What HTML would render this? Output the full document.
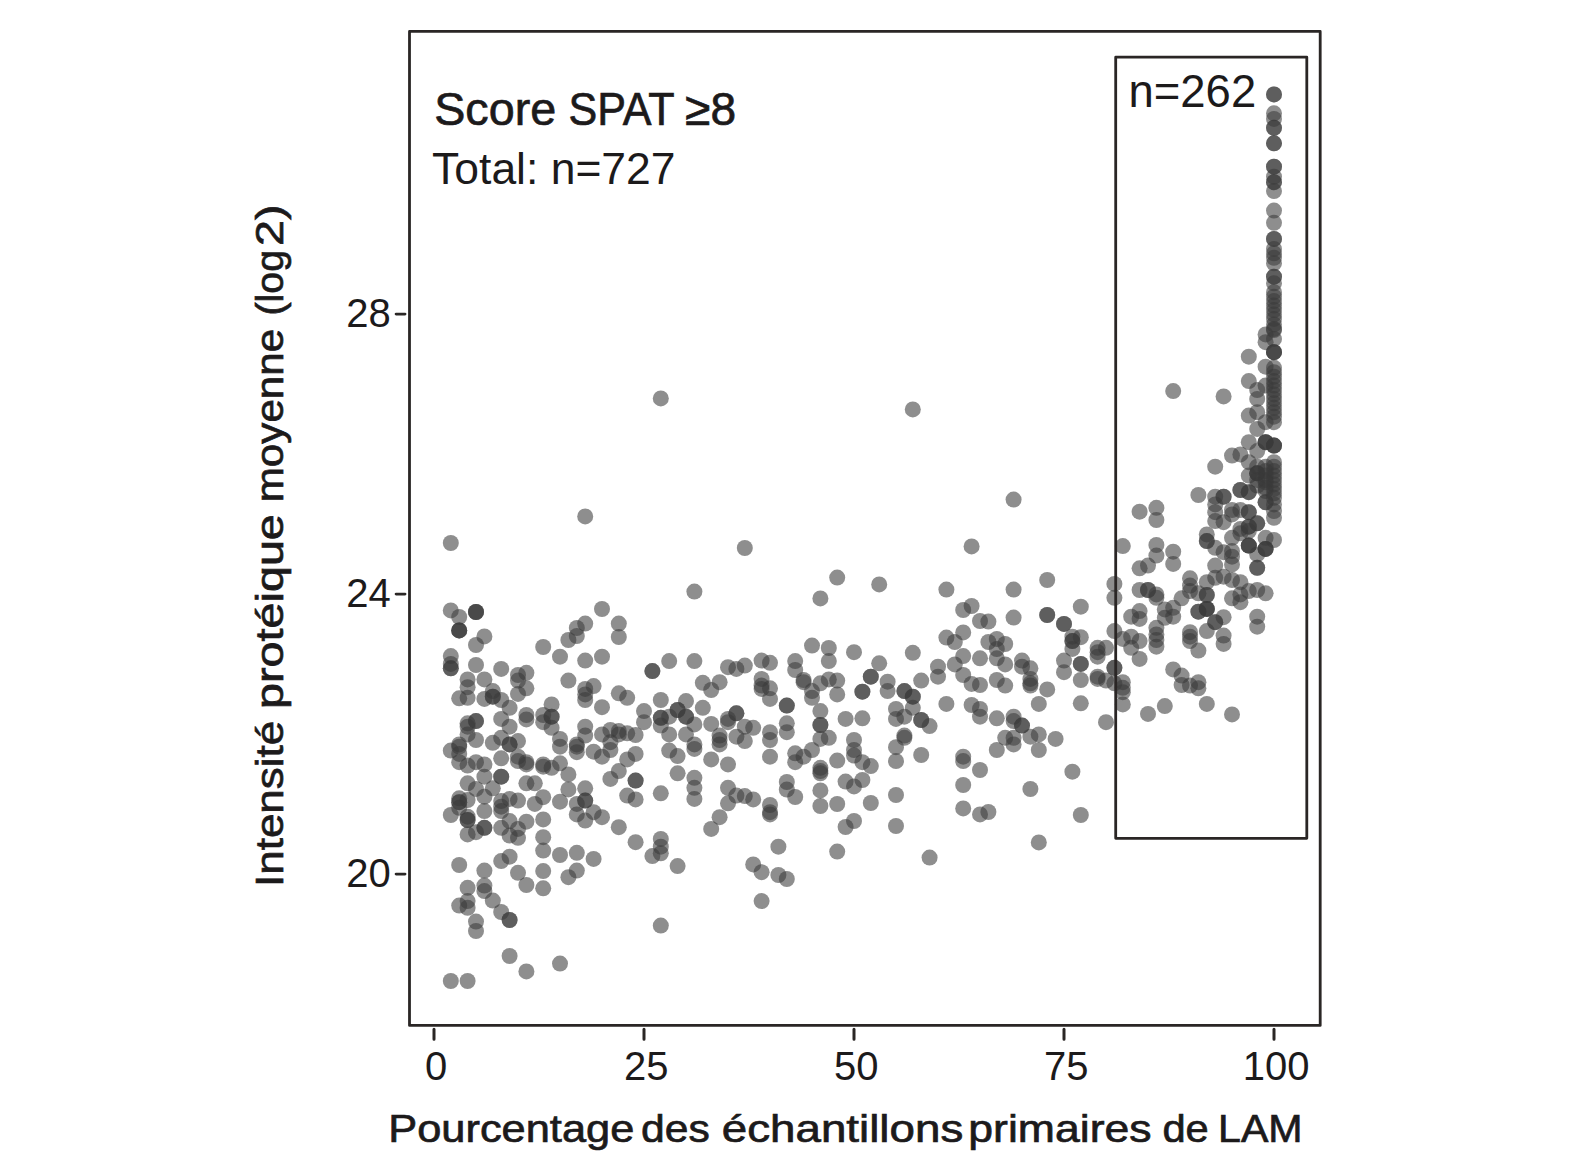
<!DOCTYPE html>
<html><head><meta charset="utf-8"><title>Chart</title>
<style>
html,body{margin:0;padding:0;background:#fff;}
body{width:1575px;height:1173px;overflow:hidden;position:relative;font-family:"Liberation Sans",sans-serif;}
svg{position:absolute;left:0;top:0;display:block}
text{font-family:"Liberation Sans",sans-serif;fill:#1c1a1b;}
text.b{stroke:#1c1a1b;stroke-width:0.7px;}
</style></head><body>
<svg width="1575" height="1173" viewBox="0 0 1575 1173">
<rect x="0" y="0" width="1575" height="1173" fill="#ffffff"/>
<g fill="#3a3a3a" fill-opacity="0.574">
<circle cx="450.8" cy="981.0" r="8"/>
<circle cx="467.6" cy="981.0" r="8"/>
<circle cx="509.6" cy="956.0" r="8"/>
<circle cx="526.4" cy="971.4" r="8"/>
<circle cx="560.0" cy="963.6" r="8"/>
<circle cx="660.8" cy="925.6" r="8"/>
<circle cx="501.2" cy="912.0" r="8"/>
<circle cx="509.6" cy="920.0" r="8"/>
<circle cx="509.6" cy="920.0" r="8"/>
<circle cx="476.0" cy="921.6" r="8"/>
<circle cx="476.0" cy="931.0" r="8"/>
<circle cx="786.8" cy="879.0" r="8"/>
<circle cx="837.2" cy="851.6" r="8"/>
<circle cx="929.6" cy="857.6" r="8"/>
<circle cx="1038.8" cy="842.4" r="8"/>
<circle cx="1030.4" cy="789.0" r="8"/>
<circle cx="963.2" cy="785.0" r="8"/>
<circle cx="963.2" cy="808.4" r="8"/>
<circle cx="980.0" cy="814.4" r="8"/>
<circle cx="988.4" cy="812.0" r="8"/>
<circle cx="896.0" cy="795.0" r="8"/>
<circle cx="896.0" cy="826.0" r="8"/>
<circle cx="870.8" cy="803.0" r="8"/>
<circle cx="854.0" cy="821.0" r="8"/>
<circle cx="845.6" cy="827.0" r="8"/>
<circle cx="837.2" cy="804.0" r="8"/>
<circle cx="820.4" cy="806.0" r="8"/>
<circle cx="820.4" cy="790.4" r="8"/>
<circle cx="845.6" cy="781.6" r="8"/>
<circle cx="854.0" cy="786.4" r="8"/>
<circle cx="862.4" cy="780.0" r="8"/>
<circle cx="786.8" cy="782.0" r="8"/>
<circle cx="786.8" cy="789.6" r="8"/>
<circle cx="795.2" cy="797.0" r="8"/>
<circle cx="1080.8" cy="815.0" r="8"/>
<circle cx="450.8" cy="543.0" r="8"/>
<circle cx="744.8" cy="548.0" r="8"/>
<circle cx="694.4" cy="591.6" r="8"/>
<circle cx="450.8" cy="610.4" r="8"/>
<circle cx="459.2" cy="617.0" r="8"/>
<circle cx="476.0" cy="612.0" r="8"/>
<circle cx="476.0" cy="612.0" r="8"/>
<circle cx="476.0" cy="612.0" r="8"/>
<circle cx="459.2" cy="630.4" r="8"/>
<circle cx="459.2" cy="630.4" r="8"/>
<circle cx="459.2" cy="630.4" r="8"/>
<circle cx="484.4" cy="636.4" r="8"/>
<circle cx="476.0" cy="645.0" r="8"/>
<circle cx="602.0" cy="609.0" r="8"/>
<circle cx="585.2" cy="623.6" r="8"/>
<circle cx="576.8" cy="628.0" r="8"/>
<circle cx="576.8" cy="636.0" r="8"/>
<circle cx="568.4" cy="640.0" r="8"/>
<circle cx="618.8" cy="623.6" r="8"/>
<circle cx="618.8" cy="637.0" r="8"/>
<circle cx="543.2" cy="647.0" r="8"/>
<circle cx="450.8" cy="656.1" r="8"/>
<circle cx="450.8" cy="663.9" r="8"/>
<circle cx="450.8" cy="668.3" r="8"/>
<circle cx="450.8" cy="668.3" r="8"/>
<circle cx="476.0" cy="665.0" r="8"/>
<circle cx="501.2" cy="668.9" r="8"/>
<circle cx="467.6" cy="679.4" r="8"/>
<circle cx="467.6" cy="687.2" r="8"/>
<circle cx="484.4" cy="679.4" r="8"/>
<circle cx="459.2" cy="698.3" r="8"/>
<circle cx="467.6" cy="697.8" r="8"/>
<circle cx="492.8" cy="691.1" r="8"/>
<circle cx="492.8" cy="696.7" r="8"/>
<circle cx="492.8" cy="696.7" r="8"/>
<circle cx="484.4" cy="698.9" r="8"/>
<circle cx="501.2" cy="700.0" r="8"/>
<circle cx="509.6" cy="707.8" r="8"/>
<circle cx="518.0" cy="675.0" r="8"/>
<circle cx="518.0" cy="680.6" r="8"/>
<circle cx="526.4" cy="672.8" r="8"/>
<circle cx="526.4" cy="688.3" r="8"/>
<circle cx="518.0" cy="693.9" r="8"/>
<circle cx="501.2" cy="718.9" r="8"/>
<circle cx="509.6" cy="726.7" r="8"/>
<circle cx="526.4" cy="715.0" r="8"/>
<circle cx="526.4" cy="719.4" r="8"/>
<circle cx="543.2" cy="715.0" r="8"/>
<circle cx="543.2" cy="722.2" r="8"/>
<circle cx="551.6" cy="704.4" r="8"/>
<circle cx="551.6" cy="716.7" r="8"/>
<circle cx="551.6" cy="716.7" r="8"/>
<circle cx="551.6" cy="727.8" r="8"/>
<circle cx="560.0" cy="656.7" r="8"/>
<circle cx="585.2" cy="660.6" r="8"/>
<circle cx="602.0" cy="656.7" r="8"/>
<circle cx="568.4" cy="680.6" r="8"/>
<circle cx="585.2" cy="688.9" r="8"/>
<circle cx="585.2" cy="694.4" r="8"/>
<circle cx="585.2" cy="700.0" r="8"/>
<circle cx="593.6" cy="686.1" r="8"/>
<circle cx="602.0" cy="707.2" r="8"/>
<circle cx="585.2" cy="726.7" r="8"/>
<circle cx="585.2" cy="735.6" r="8"/>
<circle cx="576.8" cy="744.4" r="8"/>
<circle cx="576.8" cy="746.7" r="8"/>
<circle cx="576.8" cy="752.2" r="8"/>
<circle cx="560.0" cy="738.9" r="8"/>
<circle cx="560.0" cy="746.7" r="8"/>
<circle cx="593.6" cy="751.7" r="8"/>
<circle cx="602.0" cy="756.7" r="8"/>
<circle cx="602.0" cy="734.4" r="8"/>
<circle cx="467.6" cy="723.3" r="8"/>
<circle cx="467.6" cy="726.7" r="8"/>
<circle cx="476.0" cy="721.1" r="8"/>
<circle cx="476.0" cy="721.1" r="8"/>
<circle cx="467.6" cy="734.4" r="8"/>
<circle cx="476.0" cy="740.0" r="8"/>
<circle cx="459.2" cy="744.4" r="8"/>
<circle cx="459.2" cy="746.7" r="8"/>
<circle cx="450.8" cy="750.6" r="8"/>
<circle cx="459.2" cy="753.9" r="8"/>
<circle cx="459.2" cy="762.2" r="8"/>
<circle cx="492.8" cy="742.8" r="8"/>
<circle cx="501.2" cy="737.8" r="8"/>
<circle cx="509.6" cy="744.4" r="8"/>
<circle cx="509.6" cy="744.4" r="8"/>
<circle cx="518.0" cy="741.1" r="8"/>
<circle cx="501.2" cy="758.3" r="8"/>
<circle cx="518.0" cy="756.7" r="8"/>
<circle cx="518.0" cy="761.1" r="8"/>
<circle cx="526.4" cy="762.2" r="8"/>
<circle cx="526.4" cy="764.4" r="8"/>
<circle cx="476.0" cy="762.2" r="8"/>
<circle cx="484.4" cy="764.4" r="8"/>
<circle cx="467.6" cy="765.6" r="8"/>
<circle cx="543.2" cy="764.4" r="8"/>
<circle cx="543.2" cy="766.7" r="8"/>
<circle cx="551.6" cy="767.8" r="8"/>
<circle cx="560.0" cy="763.3" r="8"/>
<circle cx="568.4" cy="774.4" r="8"/>
<circle cx="484.4" cy="776.7" r="8"/>
<circle cx="501.2" cy="776.7" r="8"/>
<circle cx="501.2" cy="776.7" r="8"/>
<circle cx="652.4" cy="671.1" r="8"/>
<circle cx="652.4" cy="671.1" r="8"/>
<circle cx="669.2" cy="661.1" r="8"/>
<circle cx="694.4" cy="661.1" r="8"/>
<circle cx="728.0" cy="667.2" r="8"/>
<circle cx="736.4" cy="668.9" r="8"/>
<circle cx="744.8" cy="665.6" r="8"/>
<circle cx="761.6" cy="660.6" r="8"/>
<circle cx="770.0" cy="662.8" r="8"/>
<circle cx="702.8" cy="682.8" r="8"/>
<circle cx="719.6" cy="682.2" r="8"/>
<circle cx="711.2" cy="690.0" r="8"/>
<circle cx="761.6" cy="678.9" r="8"/>
<circle cx="761.6" cy="685.6" r="8"/>
<circle cx="761.6" cy="688.9" r="8"/>
<circle cx="770.0" cy="688.3" r="8"/>
<circle cx="770.0" cy="698.9" r="8"/>
<circle cx="618.8" cy="693.3" r="8"/>
<circle cx="627.2" cy="697.8" r="8"/>
<circle cx="660.8" cy="700.0" r="8"/>
<circle cx="686.0" cy="701.1" r="8"/>
<circle cx="702.8" cy="707.8" r="8"/>
<circle cx="644.0" cy="711.1" r="8"/>
<circle cx="644.0" cy="722.2" r="8"/>
<circle cx="660.8" cy="717.8" r="8"/>
<circle cx="660.8" cy="717.8" r="8"/>
<circle cx="660.8" cy="725.6" r="8"/>
<circle cx="669.2" cy="716.7" r="8"/>
<circle cx="677.6" cy="710.0" r="8"/>
<circle cx="677.6" cy="710.0" r="8"/>
<circle cx="686.0" cy="716.7" r="8"/>
<circle cx="686.0" cy="716.7" r="8"/>
<circle cx="694.4" cy="724.4" r="8"/>
<circle cx="686.0" cy="734.4" r="8"/>
<circle cx="669.2" cy="734.4" r="8"/>
<circle cx="711.2" cy="723.9" r="8"/>
<circle cx="728.0" cy="718.9" r="8"/>
<circle cx="728.0" cy="722.2" r="8"/>
<circle cx="736.4" cy="713.3" r="8"/>
<circle cx="736.4" cy="713.3" r="8"/>
<circle cx="744.8" cy="726.7" r="8"/>
<circle cx="753.2" cy="727.8" r="8"/>
<circle cx="736.4" cy="736.7" r="8"/>
<circle cx="744.8" cy="741.1" r="8"/>
<circle cx="719.6" cy="735.6" r="8"/>
<circle cx="719.6" cy="740.0" r="8"/>
<circle cx="719.6" cy="744.4" r="8"/>
<circle cx="770.0" cy="732.2" r="8"/>
<circle cx="770.0" cy="740.0" r="8"/>
<circle cx="770.0" cy="756.7" r="8"/>
<circle cx="610.4" cy="730.0" r="8"/>
<circle cx="618.8" cy="731.1" r="8"/>
<circle cx="618.8" cy="734.4" r="8"/>
<circle cx="627.2" cy="733.3" r="8"/>
<circle cx="635.6" cy="735.0" r="8"/>
<circle cx="610.4" cy="742.2" r="8"/>
<circle cx="610.4" cy="750.0" r="8"/>
<circle cx="635.6" cy="753.9" r="8"/>
<circle cx="627.2" cy="759.4" r="8"/>
<circle cx="618.8" cy="771.1" r="8"/>
<circle cx="610.4" cy="778.9" r="8"/>
<circle cx="669.2" cy="750.6" r="8"/>
<circle cx="677.6" cy="756.1" r="8"/>
<circle cx="677.6" cy="773.3" r="8"/>
<circle cx="694.4" cy="777.8" r="8"/>
<circle cx="694.4" cy="744.4" r="8"/>
<circle cx="694.4" cy="748.9" r="8"/>
<circle cx="711.2" cy="759.4" r="8"/>
<circle cx="728.0" cy="764.4" r="8"/>
<circle cx="795.2" cy="661.1" r="8"/>
<circle cx="795.2" cy="670.0" r="8"/>
<circle cx="803.6" cy="680.0" r="8"/>
<circle cx="803.6" cy="682.2" r="8"/>
<circle cx="812.0" cy="691.1" r="8"/>
<circle cx="812.0" cy="697.8" r="8"/>
<circle cx="820.4" cy="683.3" r="8"/>
<circle cx="828.8" cy="679.4" r="8"/>
<circle cx="837.2" cy="680.6" r="8"/>
<circle cx="828.8" cy="661.1" r="8"/>
<circle cx="854.0" cy="652.2" r="8"/>
<circle cx="837.2" cy="694.4" r="8"/>
<circle cx="879.2" cy="663.3" r="8"/>
<circle cx="870.8" cy="676.7" r="8"/>
<circle cx="870.8" cy="676.7" r="8"/>
<circle cx="862.4" cy="691.7" r="8"/>
<circle cx="862.4" cy="691.7" r="8"/>
<circle cx="887.6" cy="681.7" r="8"/>
<circle cx="887.6" cy="691.1" r="8"/>
<circle cx="904.4" cy="691.1" r="8"/>
<circle cx="904.4" cy="691.1" r="8"/>
<circle cx="912.8" cy="696.7" r="8"/>
<circle cx="912.8" cy="696.7" r="8"/>
<circle cx="912.8" cy="707.8" r="8"/>
<circle cx="912.8" cy="652.8" r="8"/>
<circle cx="921.2" cy="680.6" r="8"/>
<circle cx="938.0" cy="666.7" r="8"/>
<circle cx="938.0" cy="676.7" r="8"/>
<circle cx="954.8" cy="664.4" r="8"/>
<circle cx="946.4" cy="703.9" r="8"/>
<circle cx="896.0" cy="708.9" r="8"/>
<circle cx="896.0" cy="718.9" r="8"/>
<circle cx="904.4" cy="716.7" r="8"/>
<circle cx="921.2" cy="720.0" r="8"/>
<circle cx="921.2" cy="720.0" r="8"/>
<circle cx="929.6" cy="726.1" r="8"/>
<circle cx="904.4" cy="735.6" r="8"/>
<circle cx="904.4" cy="737.8" r="8"/>
<circle cx="896.0" cy="747.2" r="8"/>
<circle cx="896.0" cy="761.1" r="8"/>
<circle cx="921.2" cy="755.0" r="8"/>
<circle cx="786.8" cy="705.6" r="8"/>
<circle cx="786.8" cy="705.6" r="8"/>
<circle cx="786.8" cy="723.3" r="8"/>
<circle cx="786.8" cy="732.2" r="8"/>
<circle cx="820.4" cy="711.1" r="8"/>
<circle cx="820.4" cy="725.0" r="8"/>
<circle cx="820.4" cy="725.0" r="8"/>
<circle cx="820.4" cy="738.9" r="8"/>
<circle cx="828.8" cy="737.8" r="8"/>
<circle cx="845.6" cy="718.9" r="8"/>
<circle cx="862.4" cy="718.3" r="8"/>
<circle cx="854.0" cy="740.0" r="8"/>
<circle cx="854.0" cy="750.0" r="8"/>
<circle cx="854.0" cy="755.6" r="8"/>
<circle cx="862.4" cy="762.2" r="8"/>
<circle cx="870.8" cy="766.1" r="8"/>
<circle cx="812.0" cy="750.0" r="8"/>
<circle cx="795.2" cy="753.3" r="8"/>
<circle cx="795.2" cy="762.2" r="8"/>
<circle cx="803.6" cy="756.7" r="8"/>
<circle cx="837.2" cy="760.6" r="8"/>
<circle cx="820.4" cy="767.8" r="8"/>
<circle cx="820.4" cy="771.1" r="8"/>
<circle cx="820.4" cy="773.3" r="8"/>
<circle cx="963.2" cy="656.1" r="8"/>
<circle cx="963.2" cy="675.0" r="8"/>
<circle cx="980.0" cy="658.3" r="8"/>
<circle cx="996.8" cy="658.3" r="8"/>
<circle cx="1005.2" cy="664.4" r="8"/>
<circle cx="971.6" cy="683.9" r="8"/>
<circle cx="980.0" cy="685.0" r="8"/>
<circle cx="996.8" cy="680.0" r="8"/>
<circle cx="1005.2" cy="685.6" r="8"/>
<circle cx="1022.0" cy="660.6" r="8"/>
<circle cx="1022.0" cy="666.7" r="8"/>
<circle cx="1030.4" cy="668.3" r="8"/>
<circle cx="1030.4" cy="678.9" r="8"/>
<circle cx="1030.4" cy="683.3" r="8"/>
<circle cx="1030.4" cy="685.6" r="8"/>
<circle cx="1047.2" cy="689.4" r="8"/>
<circle cx="1038.8" cy="703.9" r="8"/>
<circle cx="1064.0" cy="660.6" r="8"/>
<circle cx="1064.0" cy="672.2" r="8"/>
<circle cx="1080.8" cy="663.9" r="8"/>
<circle cx="1080.8" cy="663.9" r="8"/>
<circle cx="1080.8" cy="680.0" r="8"/>
<circle cx="1080.8" cy="703.3" r="8"/>
<circle cx="1097.6" cy="652.2" r="8"/>
<circle cx="1097.6" cy="656.7" r="8"/>
<circle cx="1097.6" cy="676.7" r="8"/>
<circle cx="1097.6" cy="678.9" r="8"/>
<circle cx="1106.0" cy="680.6" r="8"/>
<circle cx="1114.4" cy="667.8" r="8"/>
<circle cx="1114.4" cy="667.8" r="8"/>
<circle cx="1114.4" cy="683.3" r="8"/>
<circle cx="1122.8" cy="682.2" r="8"/>
<circle cx="1122.8" cy="687.8" r="8"/>
<circle cx="1122.8" cy="692.2" r="8"/>
<circle cx="1122.8" cy="704.4" r="8"/>
<circle cx="1106.0" cy="722.2" r="8"/>
<circle cx="1072.4" cy="771.7" r="8"/>
<circle cx="971.6" cy="705.0" r="8"/>
<circle cx="980.0" cy="708.9" r="8"/>
<circle cx="980.0" cy="716.7" r="8"/>
<circle cx="996.8" cy="718.3" r="8"/>
<circle cx="1013.6" cy="716.7" r="8"/>
<circle cx="1013.6" cy="721.1" r="8"/>
<circle cx="1022.0" cy="725.6" r="8"/>
<circle cx="1022.0" cy="725.6" r="8"/>
<circle cx="1005.2" cy="737.8" r="8"/>
<circle cx="1013.6" cy="737.8" r="8"/>
<circle cx="1013.6" cy="744.4" r="8"/>
<circle cx="996.8" cy="750.0" r="8"/>
<circle cx="1030.4" cy="736.7" r="8"/>
<circle cx="1038.8" cy="734.4" r="8"/>
<circle cx="1038.8" cy="750.0" r="8"/>
<circle cx="1055.6" cy="738.9" r="8"/>
<circle cx="963.2" cy="756.7" r="8"/>
<circle cx="963.2" cy="761.1" r="8"/>
<circle cx="980.0" cy="770.0" r="8"/>
<circle cx="459.2" cy="798.3" r="8"/>
<circle cx="459.2" cy="802.2" r="8"/>
<circle cx="459.2" cy="802.2" r="8"/>
<circle cx="459.2" cy="807.8" r="8"/>
<circle cx="450.8" cy="815.0" r="8"/>
<circle cx="467.6" cy="816.7" r="8"/>
<circle cx="467.6" cy="820.0" r="8"/>
<circle cx="467.6" cy="820.0" r="8"/>
<circle cx="467.6" cy="800.0" r="8"/>
<circle cx="467.6" cy="834.4" r="8"/>
<circle cx="476.0" cy="832.2" r="8"/>
<circle cx="484.4" cy="827.8" r="8"/>
<circle cx="484.4" cy="827.8" r="8"/>
<circle cx="467.6" cy="783.3" r="8"/>
<circle cx="476.0" cy="788.9" r="8"/>
<circle cx="484.4" cy="796.7" r="8"/>
<circle cx="484.4" cy="811.1" r="8"/>
<circle cx="492.8" cy="788.3" r="8"/>
<circle cx="501.2" cy="801.1" r="8"/>
<circle cx="501.2" cy="806.7" r="8"/>
<circle cx="501.2" cy="811.1" r="8"/>
<circle cx="509.6" cy="798.9" r="8"/>
<circle cx="518.0" cy="800.6" r="8"/>
<circle cx="501.2" cy="827.8" r="8"/>
<circle cx="509.6" cy="821.1" r="8"/>
<circle cx="518.0" cy="828.9" r="8"/>
<circle cx="509.6" cy="835.6" r="8"/>
<circle cx="518.0" cy="837.8" r="8"/>
<circle cx="526.4" cy="821.7" r="8"/>
<circle cx="526.4" cy="783.3" r="8"/>
<circle cx="534.8" cy="783.3" r="8"/>
<circle cx="543.2" cy="797.2" r="8"/>
<circle cx="534.8" cy="803.9" r="8"/>
<circle cx="543.2" cy="819.4" r="8"/>
<circle cx="543.2" cy="837.2" r="8"/>
<circle cx="543.2" cy="850.6" r="8"/>
<circle cx="543.2" cy="871.1" r="8"/>
<circle cx="543.2" cy="888.3" r="8"/>
<circle cx="560.0" cy="801.7" r="8"/>
<circle cx="568.4" cy="789.4" r="8"/>
<circle cx="585.2" cy="788.3" r="8"/>
<circle cx="585.2" cy="800.6" r="8"/>
<circle cx="585.2" cy="800.6" r="8"/>
<circle cx="576.8" cy="803.9" r="8"/>
<circle cx="576.8" cy="814.4" r="8"/>
<circle cx="585.2" cy="820.6" r="8"/>
<circle cx="593.6" cy="812.2" r="8"/>
<circle cx="602.0" cy="817.2" r="8"/>
<circle cx="560.0" cy="855.0" r="8"/>
<circle cx="576.8" cy="852.8" r="8"/>
<circle cx="593.6" cy="858.9" r="8"/>
<circle cx="576.8" cy="870.6" r="8"/>
<circle cx="568.4" cy="877.2" r="8"/>
<circle cx="459.2" cy="865.0" r="8"/>
<circle cx="484.4" cy="870.6" r="8"/>
<circle cx="501.2" cy="861.1" r="8"/>
<circle cx="509.6" cy="856.7" r="8"/>
<circle cx="518.0" cy="872.8" r="8"/>
<circle cx="526.4" cy="885.0" r="8"/>
<circle cx="467.6" cy="887.8" r="8"/>
<circle cx="484.4" cy="885.6" r="8"/>
<circle cx="484.4" cy="891.1" r="8"/>
<circle cx="492.8" cy="900.6" r="8"/>
<circle cx="467.6" cy="901.1" r="8"/>
<circle cx="459.2" cy="905.6" r="8"/>
<circle cx="467.6" cy="907.8" r="8"/>
<circle cx="635.6" cy="780.6" r="8"/>
<circle cx="635.6" cy="780.6" r="8"/>
<circle cx="627.2" cy="795.6" r="8"/>
<circle cx="635.6" cy="799.4" r="8"/>
<circle cx="660.8" cy="793.3" r="8"/>
<circle cx="694.4" cy="787.8" r="8"/>
<circle cx="694.4" cy="798.9" r="8"/>
<circle cx="728.0" cy="787.8" r="8"/>
<circle cx="728.0" cy="803.3" r="8"/>
<circle cx="736.4" cy="795.6" r="8"/>
<circle cx="744.8" cy="796.1" r="8"/>
<circle cx="753.2" cy="799.4" r="8"/>
<circle cx="770.0" cy="805.0" r="8"/>
<circle cx="770.0" cy="812.2" r="8"/>
<circle cx="770.0" cy="814.4" r="8"/>
<circle cx="719.6" cy="817.2" r="8"/>
<circle cx="711.2" cy="828.9" r="8"/>
<circle cx="618.8" cy="827.2" r="8"/>
<circle cx="635.6" cy="842.2" r="8"/>
<circle cx="652.4" cy="856.1" r="8"/>
<circle cx="660.8" cy="838.9" r="8"/>
<circle cx="660.8" cy="846.7" r="8"/>
<circle cx="660.8" cy="853.3" r="8"/>
<circle cx="677.6" cy="866.1" r="8"/>
<circle cx="778.4" cy="846.7" r="8"/>
<circle cx="753.2" cy="864.4" r="8"/>
<circle cx="761.6" cy="872.2" r="8"/>
<circle cx="778.4" cy="875.0" r="8"/>
<circle cx="761.6" cy="901.1" r="8"/>
<circle cx="971.6" cy="546.4" r="8"/>
<circle cx="837.2" cy="577.6" r="8"/>
<circle cx="820.4" cy="598.4" r="8"/>
<circle cx="879.2" cy="584.4" r="8"/>
<circle cx="946.4" cy="589.6" r="8"/>
<circle cx="1013.6" cy="589.6" r="8"/>
<circle cx="1047.2" cy="580.0" r="8"/>
<circle cx="963.2" cy="610.0" r="8"/>
<circle cx="971.6" cy="606.0" r="8"/>
<circle cx="980.0" cy="621.0" r="8"/>
<circle cx="988.4" cy="621.6" r="8"/>
<circle cx="1013.6" cy="617.6" r="8"/>
<circle cx="1047.2" cy="615.0" r="8"/>
<circle cx="1047.2" cy="615.0" r="8"/>
<circle cx="963.2" cy="632.4" r="8"/>
<circle cx="946.4" cy="637.6" r="8"/>
<circle cx="954.8" cy="642.0" r="8"/>
<circle cx="988.4" cy="642.0" r="8"/>
<circle cx="996.8" cy="639.0" r="8"/>
<circle cx="996.8" cy="649.0" r="8"/>
<circle cx="1005.2" cy="644.0" r="8"/>
<circle cx="812.0" cy="645.6" r="8"/>
<circle cx="828.8" cy="648.0" r="8"/>
<circle cx="1080.8" cy="606.7" r="8"/>
<circle cx="1064.0" cy="623.9" r="8"/>
<circle cx="1064.0" cy="623.9" r="8"/>
<circle cx="1072.4" cy="636.7" r="8"/>
<circle cx="1072.4" cy="641.1" r="8"/>
<circle cx="1072.4" cy="641.1" r="8"/>
<circle cx="1072.4" cy="648.9" r="8"/>
<circle cx="1080.8" cy="637.2" r="8"/>
<circle cx="1097.6" cy="647.8" r="8"/>
<circle cx="1106.0" cy="647.8" r="8"/>
<circle cx="1114.4" cy="597.8" r="8"/>
<circle cx="1114.4" cy="631.1" r="8"/>
<circle cx="1122.8" cy="638.9" r="8"/>
<circle cx="1131.2" cy="616.7" r="8"/>
<circle cx="1131.2" cy="636.7" r="8"/>
<circle cx="1131.2" cy="647.8" r="8"/>
<circle cx="1139.6" cy="641.1" r="8"/>
<circle cx="1139.6" cy="611.1" r="8"/>
<circle cx="1139.6" cy="618.9" r="8"/>
<circle cx="1139.6" cy="658.9" r="8"/>
<circle cx="1139.6" cy="590.0" r="8"/>
<circle cx="1148.0" cy="590.0" r="8"/>
<circle cx="1148.0" cy="590.0" r="8"/>
<circle cx="1156.4" cy="594.4" r="8"/>
<circle cx="1156.4" cy="597.8" r="8"/>
<circle cx="1156.4" cy="627.8" r="8"/>
<circle cx="1156.4" cy="634.4" r="8"/>
<circle cx="1156.4" cy="640.0" r="8"/>
<circle cx="1156.4" cy="646.7" r="8"/>
<circle cx="1164.8" cy="609.4" r="8"/>
<circle cx="1164.8" cy="617.8" r="8"/>
<circle cx="1173.2" cy="607.8" r="8"/>
<circle cx="1173.2" cy="616.7" r="8"/>
<circle cx="1181.6" cy="598.3" r="8"/>
<circle cx="1190.0" cy="591.1" r="8"/>
<circle cx="1198.4" cy="593.3" r="8"/>
<circle cx="1206.8" cy="595.0" r="8"/>
<circle cx="1206.8" cy="595.0" r="8"/>
<circle cx="1198.4" cy="611.7" r="8"/>
<circle cx="1198.4" cy="611.7" r="8"/>
<circle cx="1206.8" cy="608.9" r="8"/>
<circle cx="1206.8" cy="608.9" r="8"/>
<circle cx="1206.8" cy="608.9" r="8"/>
<circle cx="1190.0" cy="632.2" r="8"/>
<circle cx="1190.0" cy="636.7" r="8"/>
<circle cx="1190.0" cy="641.1" r="8"/>
<circle cx="1198.4" cy="650.6" r="8"/>
<circle cx="1206.8" cy="631.1" r="8"/>
<circle cx="1215.2" cy="622.2" r="8"/>
<circle cx="1215.2" cy="622.2" r="8"/>
<circle cx="1223.6" cy="617.2" r="8"/>
<circle cx="1223.6" cy="635.6" r="8"/>
<circle cx="1223.6" cy="643.9" r="8"/>
<circle cx="1232.0" cy="598.3" r="8"/>
<circle cx="1240.4" cy="602.2" r="8"/>
<circle cx="1240.4" cy="594.4" r="8"/>
<circle cx="1248.8" cy="591.1" r="8"/>
<circle cx="1257.2" cy="590.0" r="8"/>
<circle cx="1265.6" cy="593.3" r="8"/>
<circle cx="1257.2" cy="616.7" r="8"/>
<circle cx="1257.2" cy="626.7" r="8"/>
<circle cx="1173.2" cy="669.4" r="8"/>
<circle cx="1181.6" cy="675.6" r="8"/>
<circle cx="1181.6" cy="685.0" r="8"/>
<circle cx="1190.0" cy="685.6" r="8"/>
<circle cx="1198.4" cy="682.2" r="8"/>
<circle cx="1198.4" cy="688.3" r="8"/>
<circle cx="1164.8" cy="706.1" r="8"/>
<circle cx="1206.8" cy="703.9" r="8"/>
<circle cx="1232.0" cy="714.4" r="8"/>
<circle cx="1148.0" cy="713.9" r="8"/>
<circle cx="1122.8" cy="546.1" r="8"/>
<circle cx="1139.6" cy="511.7" r="8"/>
<circle cx="1156.4" cy="507.8" r="8"/>
<circle cx="1156.4" cy="520.0" r="8"/>
<circle cx="1156.4" cy="545.0" r="8"/>
<circle cx="1156.4" cy="555.6" r="8"/>
<circle cx="1148.0" cy="565.6" r="8"/>
<circle cx="1139.6" cy="568.3" r="8"/>
<circle cx="1173.2" cy="551.7" r="8"/>
<circle cx="1173.2" cy="563.9" r="8"/>
<circle cx="1114.4" cy="583.9" r="8"/>
<circle cx="1190.0" cy="578.3" r="8"/>
<circle cx="1190.0" cy="585.6" r="8"/>
<circle cx="1198.4" cy="495.0" r="8"/>
<circle cx="1215.2" cy="466.7" r="8"/>
<circle cx="1215.2" cy="496.7" r="8"/>
<circle cx="1215.2" cy="504.4" r="8"/>
<circle cx="1215.2" cy="512.2" r="8"/>
<circle cx="1215.2" cy="521.1" r="8"/>
<circle cx="1223.6" cy="496.7" r="8"/>
<circle cx="1223.6" cy="496.7" r="8"/>
<circle cx="1223.6" cy="522.2" r="8"/>
<circle cx="1206.8" cy="534.4" r="8"/>
<circle cx="1206.8" cy="541.1" r="8"/>
<circle cx="1206.8" cy="541.1" r="8"/>
<circle cx="1215.2" cy="547.8" r="8"/>
<circle cx="1223.6" cy="552.2" r="8"/>
<circle cx="1232.0" cy="510.0" r="8"/>
<circle cx="1232.0" cy="514.4" r="8"/>
<circle cx="1232.0" cy="537.8" r="8"/>
<circle cx="1232.0" cy="551.1" r="8"/>
<circle cx="1232.0" cy="556.7" r="8"/>
<circle cx="1232.0" cy="564.4" r="8"/>
<circle cx="1240.4" cy="490.0" r="8"/>
<circle cx="1240.4" cy="490.0" r="8"/>
<circle cx="1240.4" cy="510.0" r="8"/>
<circle cx="1248.8" cy="492.2" r="8"/>
<circle cx="1248.8" cy="492.2" r="8"/>
<circle cx="1248.8" cy="512.2" r="8"/>
<circle cx="1248.8" cy="512.2" r="8"/>
<circle cx="1240.4" cy="528.9" r="8"/>
<circle cx="1240.4" cy="533.3" r="8"/>
<circle cx="1248.8" cy="526.7" r="8"/>
<circle cx="1248.8" cy="526.7" r="8"/>
<circle cx="1248.8" cy="531.1" r="8"/>
<circle cx="1257.2" cy="523.3" r="8"/>
<circle cx="1257.2" cy="523.3" r="8"/>
<circle cx="1248.8" cy="545.6" r="8"/>
<circle cx="1248.8" cy="545.6" r="8"/>
<circle cx="1248.8" cy="545.6" r="8"/>
<circle cx="1265.6" cy="548.9" r="8"/>
<circle cx="1265.6" cy="548.9" r="8"/>
<circle cx="1265.6" cy="548.9" r="8"/>
<circle cx="1257.2" cy="554.4" r="8"/>
<circle cx="1257.2" cy="567.8" r="8"/>
<circle cx="1257.2" cy="567.8" r="8"/>
<circle cx="1265.6" cy="502.2" r="8"/>
<circle cx="1265.6" cy="502.2" r="8"/>
<circle cx="1265.6" cy="491.1" r="8"/>
<circle cx="1265.6" cy="537.8" r="8"/>
<circle cx="1274.0" cy="517.8" r="8"/>
<circle cx="1274.0" cy="540.0" r="8"/>
<circle cx="1257.2" cy="473.3" r="8"/>
<circle cx="1257.2" cy="473.3" r="8"/>
<circle cx="1257.2" cy="473.3" r="8"/>
<circle cx="1248.8" cy="475.6" r="8"/>
<circle cx="1248.8" cy="462.2" r="8"/>
<circle cx="1274.0" cy="462.2" r="8"/>
<circle cx="1274.0" cy="466.7" r="8"/>
<circle cx="1274.0" cy="471.1" r="8"/>
<circle cx="1274.0" cy="475.6" r="8"/>
<circle cx="1274.0" cy="480.0" r="8"/>
<circle cx="1274.0" cy="484.4" r="8"/>
<circle cx="1274.0" cy="488.9" r="8"/>
<circle cx="1274.0" cy="493.3" r="8"/>
<circle cx="1265.6" cy="471.1" r="8"/>
<circle cx="1265.6" cy="480.0" r="8"/>
<circle cx="1265.6" cy="487.8" r="8"/>
<circle cx="1215.2" cy="565.6" r="8"/>
<circle cx="1215.2" cy="577.8" r="8"/>
<circle cx="1223.6" cy="576.7" r="8"/>
<circle cx="1232.0" cy="580.0" r="8"/>
<circle cx="1240.4" cy="582.2" r="8"/>
<circle cx="1206.8" cy="582.2" r="8"/>
<circle cx="1265.6" cy="466.7" r="8"/>
<circle cx="1265.6" cy="475.6" r="8"/>
<circle cx="1265.6" cy="482.2" r="8"/>
<circle cx="1257.2" cy="466.7" r="8"/>
<circle cx="1257.2" cy="480.0" r="8"/>
<circle cx="1257.2" cy="485.6" r="8"/>
<circle cx="1274.0" cy="497.8" r="8"/>
<circle cx="1274.0" cy="504.4" r="8"/>
<circle cx="1274.0" cy="511.1" r="8"/>
<circle cx="1173.2" cy="391.1" r="8"/>
<circle cx="1223.6" cy="396.4" r="8"/>
<circle cx="1248.8" cy="356.7" r="8"/>
<circle cx="1248.8" cy="381.1" r="8"/>
<circle cx="1248.8" cy="415.6" r="8"/>
<circle cx="1248.8" cy="442.2" r="8"/>
<circle cx="1257.2" cy="390.0" r="8"/>
<circle cx="1257.2" cy="398.9" r="8"/>
<circle cx="1257.2" cy="412.2" r="8"/>
<circle cx="1257.2" cy="428.9" r="8"/>
<circle cx="1265.6" cy="334.4" r="8"/>
<circle cx="1265.6" cy="342.2" r="8"/>
<circle cx="1265.6" cy="366.7" r="8"/>
<circle cx="1265.6" cy="385.6" r="8"/>
<circle cx="1265.6" cy="422.2" r="8"/>
<circle cx="1232.0" cy="455.6" r="8"/>
<circle cx="1240.4" cy="454.4" r="8"/>
<circle cx="1274.0" cy="330.0" r="8"/>
<circle cx="1274.0" cy="338.9" r="8"/>
<circle cx="1274.0" cy="352.2" r="8"/>
<circle cx="1274.0" cy="352.2" r="8"/>
<circle cx="1274.0" cy="352.2" r="8"/>
<circle cx="1274.0" cy="367.8" r="8"/>
<circle cx="1274.0" cy="372.2" r="8"/>
<circle cx="1274.0" cy="376.7" r="8"/>
<circle cx="1274.0" cy="381.1" r="8"/>
<circle cx="1274.0" cy="385.6" r="8"/>
<circle cx="1274.0" cy="390.0" r="8"/>
<circle cx="1274.0" cy="394.4" r="8"/>
<circle cx="1274.0" cy="398.9" r="8"/>
<circle cx="1274.0" cy="403.3" r="8"/>
<circle cx="1274.0" cy="407.8" r="8"/>
<circle cx="1274.0" cy="412.2" r="8"/>
<circle cx="1274.0" cy="416.7" r="8"/>
<circle cx="1274.0" cy="422.2" r="8"/>
<circle cx="1265.6" cy="442.2" r="8"/>
<circle cx="1265.6" cy="442.2" r="8"/>
<circle cx="1265.6" cy="442.2" r="8"/>
<circle cx="1274.0" cy="445.6" r="8"/>
<circle cx="1274.0" cy="445.6" r="8"/>
<circle cx="1274.0" cy="445.6" r="8"/>
<circle cx="1257.2" cy="451.1" r="8"/>
<circle cx="1274.0" cy="210.6" r="8"/>
<circle cx="1274.0" cy="222.8" r="8"/>
<circle cx="1274.0" cy="238.9" r="8"/>
<circle cx="1274.0" cy="238.9" r="8"/>
<circle cx="1274.0" cy="248.9" r="8"/>
<circle cx="1274.0" cy="253.3" r="8"/>
<circle cx="1274.0" cy="257.8" r="8"/>
<circle cx="1274.0" cy="263.3" r="8"/>
<circle cx="1274.0" cy="276.7" r="8"/>
<circle cx="1274.0" cy="276.7" r="8"/>
<circle cx="1274.0" cy="283.3" r="8"/>
<circle cx="1274.0" cy="292.2" r="8"/>
<circle cx="1274.0" cy="296.7" r="8"/>
<circle cx="1274.0" cy="301.1" r="8"/>
<circle cx="1274.0" cy="305.6" r="8"/>
<circle cx="1274.0" cy="310.0" r="8"/>
<circle cx="1274.0" cy="314.4" r="8"/>
<circle cx="1274.0" cy="318.9" r="8"/>
<circle cx="1274.0" cy="324.4" r="8"/>
<circle cx="1274.0" cy="328.9" r="8"/>
<circle cx="1274.0" cy="94.4" r="8"/>
<circle cx="1274.0" cy="94.4" r="8"/>
<circle cx="1274.0" cy="113.3" r="8"/>
<circle cx="1274.0" cy="118.9" r="8"/>
<circle cx="1274.0" cy="127.8" r="8"/>
<circle cx="1274.0" cy="127.8" r="8"/>
<circle cx="1274.0" cy="143.3" r="8"/>
<circle cx="1274.0" cy="143.3" r="8"/>
<circle cx="1274.0" cy="166.7" r="8"/>
<circle cx="1274.0" cy="166.7" r="8"/>
<circle cx="1274.0" cy="176.7" r="8"/>
<circle cx="1274.0" cy="182.2" r="8"/>
<circle cx="1274.0" cy="182.2" r="8"/>
<circle cx="1274.0" cy="191.1" r="8"/>
<circle cx="660.8" cy="398.4" r="8"/>
<circle cx="585.2" cy="516.4" r="8"/>
<circle cx="912.8" cy="409.4" r="8"/>
<circle cx="1013.6" cy="499.6" r="8"/>
</g>
<g fill="none" stroke="#2a2625" stroke-width="2.8" stroke-linejoin="round" stroke-linecap="round">
<rect x="409.5" y="31.4" width="910.7" height="994.0"/>
<rect x="1115.7" y="57.2" width="191.1" height="781.1" stroke-width="2.8"/>
<path d="M434 1029.3V1039.2M644 1029.3V1039.2M854 1029.3V1039.2M1064 1029.3V1039.2M1274 1029.3V1039.2" stroke-width="3"/>
<path d="M396.1 314.1H405M396.1 594.1H405M396.1 874.1H405" stroke-width="2.9"/>
</g>
<g font-size="40px" text-anchor="middle">
<text x="436.2" y="1080">0</text>
<text x="646.2" y="1080">25</text>
<text x="856.2" y="1080">50</text>
<text x="1066.2" y="1080">75</text>
<text x="1276.2" y="1080">100</text>
</g>
<g font-size="40px" text-anchor="end">
<text x="390.7" y="327">28</text>
<text x="390.7" y="607">24</text>
<text x="390.7" y="887">20</text>
</g>
<text transform="translate(434.21,124.6) scale(0.9938,1)" font-size="47px" class="b">Score</text>
<text transform="translate(568.47,124.6) scale(0.9171,1)" font-size="47px" class="b">SPAT</text>
<text transform="translate(685.22,124.6) scale(0.9800,1)" font-size="47px" class="b">≥8</text>
<text transform="translate(432.11,183.6) scale(0.9880,1)" font-size="45px">Total: n=727</text>
<text transform="translate(1128.54,107.3) scale(0.9879,1)" font-size="46px">n=262</text>
<text transform="translate(388.26,1142) scale(1.1124,1)" font-size="39px" class="b">Pourcentage</text>
<text transform="translate(641.01,1142) scale(1.0932,1)" font-size="39px" class="b">des</text>
<text transform="translate(721.73,1142) scale(1.1728,1)" font-size="39px" class="b">échantillons</text>
<text transform="translate(968.31,1142) scale(1.1434,1)" font-size="39px" class="b">primaires</text>
<text transform="translate(1162.43,1142) scale(1.0691,1)" font-size="39px" class="b">de</text>
<text transform="translate(1218.04,1142) scale(1.0548,1)" font-size="39px" class="b">LAM</text>
<text transform="translate(283.4,886.98) rotate(-90) scale(1.1279,1)" font-size="39px" class="b">Intensité</text>
<text transform="translate(283.4,709.00) rotate(-90) scale(1.1986,1)" font-size="39px" class="b">protéique</text>
<text transform="translate(283.4,502.26) rotate(-90) scale(1.0814,1)" font-size="39px" class="b">moyenne</text>
<text transform="translate(283.4,315.62) rotate(-90) scale(1.0107,1)" font-size="39px" class="b">(log</text>
<text transform="translate(283.4,246.10) rotate(-90) scale(1.1991,1)" font-size="39px" class="b">2)</text>
</svg>
</body></html>
